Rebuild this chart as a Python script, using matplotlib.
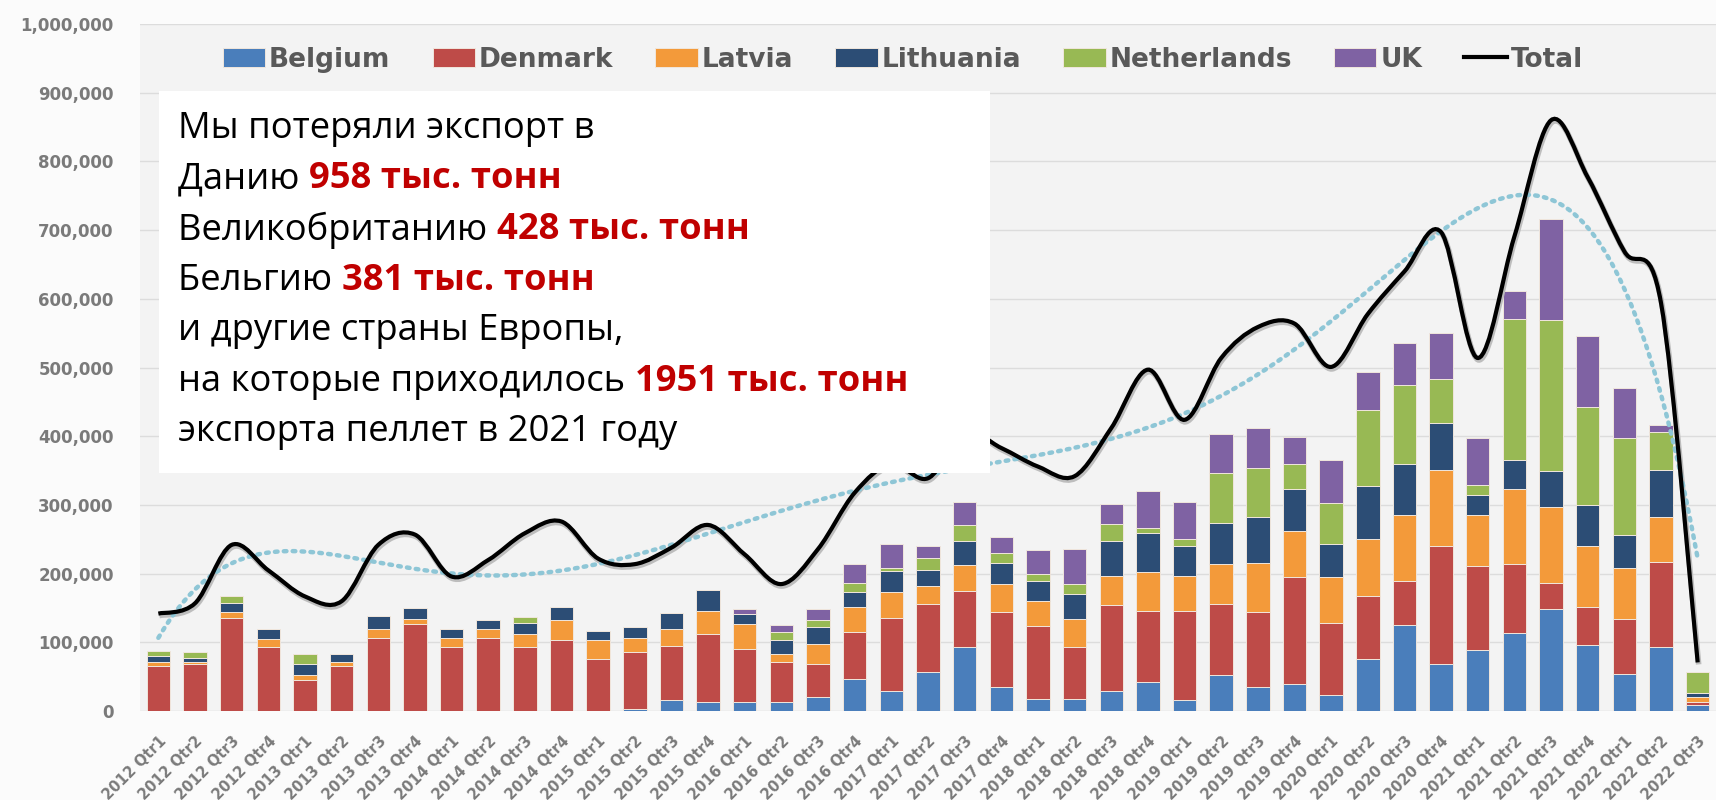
import numpy as np
import matplotlib.pyplot as plt
from matplotlib.path import Path
from matplotlib.patches import PathPatch, Rectangle
from matplotlib.lines import Line2D
from matplotlib.transforms import ScaledTranslation

# Кварталы 2012 Qtr1 .. 2022 Qtr3
quarters = [f"{y} Qtr{q}" for y in range(2012, 2023) for q in range(1, 5)][:43]

# Экспорт пеллет по странам, тыс. тонн (оценка по графику)
belgium = [0, 0, 0, 0, 0, 0, 0, 0, 0, 0, 0, 0, 0, 3, 16, 13, 13,
           13, 21, 47, 30, 57, 93, 35, 18, 18, 30, 42, 16, 52, 35, 40,
           23, 76, 126, 69, 89, 114, 149, 97, 54, 94, 9]
denmark = [66, 69, 136, 93, 45, 66, 107, 127, 93, 107, 93, 103, 76, 83, 79, 99, 78,
           58, 48, 68, 106, 99, 82, 109, 106, 75, 124, 104, 130, 104, 109, 155,
           106, 92, 63, 171, 122, 100, 37, 54, 80, 123, 4]
latvia = [5, 2, 8, 12, 7, 5, 13, 7, 14, 13, 19, 29, 28, 21, 25, 34, 36,
          12, 29, 36, 37, 26, 38, 41, 36, 41, 43, 56, 51, 58, 72, 67,
          66, 82, 97, 111, 75, 109, 111, 89, 75, 66, 7]
lithuania = [10, 6, 14, 15, 17, 12, 18, 16, 13, 13, 17, 20, 12, 16, 23, 30, 14,
             20, 24, 22, 31, 24, 34, 31, 29, 36, 51, 58, 43, 60, 66, 61,
             48, 78, 74, 69, 28, 43, 52, 60, 48, 68, 6]
netherlands = [7, 9, 10, 0, 14, 0, 0, 0, 0, 0, 8, 0, 0, 0, 0, 0, 0,
               12, 10, 14, 5, 17, 24, 14, 10, 15, 24, 7, 10, 73, 72, 36,
               60, 111, 114, 63, 15, 205, 220, 143, 140, 55, 31]
uk = [0, 0, 0, 0, 0, 0, 0, 0, 0, 0, 0, 0, 0, 0, 0, 0, 7,
      11, 16, 27, 34, 18, 33, 23, 36, 51, 30, 53, 54, 56, 58, 40,
      63, 54, 62, 68, 68, 40, 147, 103, 74, 10, 0]
total = [142, 157, 242, 205, 167, 160, 242, 257, 196, 220, 259, 276, 222, 214, 238, 271, 228,
         185, 236, 318, 360, 339, 405, 383, 356, 342, 412, 497, 424, 514, 559, 564,
         501, 578, 640, 697, 514, 691, 860, 777, 669, 594, 71]

countries = ["Belgium", "Denmark", "Latvia", "Lithuania", "Netherlands", "UK"]
series = [belgium, denmark, latvia, lithuania, netherlands, uk]
colors = ["#4a7ebb", "#be4b48", "#f39a3a", "#2c4d75", "#98b954", "#7f62a3"]

x = np.arange(len(quarters))
total_t = np.array(total) * 1000.0

fig = plt.figure(figsize=(17.16, 8), dpi=100, facecolor="#fbfbfb")
ax = fig.add_axes([0.0816, 0.111, 0.9184, 0.859])
ax.set_facecolor("#f3f3f3")

# Столбцы
bottom = np.zeros(len(x))
for name, vals, c in zip(countries, series, colors):
    v = np.array(vals) * 1000.0
    ax.bar(x, v, 0.64, bottom=bottom, color=c, edgecolor="#f0e6dc",
           linewidth=0.7, label=name, zorder=3)
    bottom += v

# Сглаженная линия Total (кривые Безье по точкам, как в Excel)
pts = np.column_stack([x, total_t])
verts = [pts[0]]
codes = [Path.MOVETO]
for i in range(len(pts) - 1):
    p0 = pts[max(i - 1, 0)]
    p1 = pts[i]
    p2 = pts[i + 1]
    p3 = pts[min(i + 2, len(pts) - 1)]
    verts += [p1 + (p2 - p0) / 6, p2 - (p3 - p1) / 6, p2]
    codes += [Path.CURVE4] * 3
smooth = Path(verts, codes)
shadow = ax.transData + ScaledTranslation(1 / 100, -2 / 100, fig.dpi_scale_trans)
ax.add_patch(PathPatch(smooth, fill=False, edgecolor="#bdbdbd", lw=4,
                       zorder=4, transform=shadow))
ax.add_patch(PathPatch(smooth, fill=False, edgecolor="black", lw=3, zorder=5))

# Полиномиальный тренд (6 степень)
coef = np.polyfit(x, total_t, 6)
xt = np.linspace(0, len(x) - 1, 300)
ax.plot(xt, np.polyval(coef, xt), linestyle=(0, (0.6, 1.4)), color="#8ec6d6",
        lw=3.2, dash_capstyle="round", zorder=4)

ax.set_xlim(-0.5, len(x) - 0.5)
ax.set_ylim(0, 1000000)
ax.set_yticks(np.arange(0, 1000001, 100000))
ax.set_yticklabels([f"{v:,}" for v in range(0, 1000001, 100000)],
                   fontsize=12, fontweight="bold", color="#7a7a7a")
ax.set_xticks(x)
ax.set_xticklabels(quarters, rotation=45, ha="right", rotation_mode="anchor",
                   fontsize=10.5, fontweight="bold", color="#7a7a7a")
ax.tick_params(axis="y", length=0, pad=19)
ax.tick_params(axis="x", length=0, pad=16)
ax.grid(axis="y", color="#dcdcdc", lw=1, zorder=0)
for s in ax.spines.values():
    s.set_visible(False)

handles, labels = ax.get_legend_handles_labels()
handles.append(Line2D([0], [0], color="black", lw=3))
labels.append("Total")
leg = ax.legend(handles, labels, ncol=7, loc="center", bbox_to_anchor=(0.484, 0.948),
                frameon=False, handlelength=1.6, handleheight=0.7, handletextpad=0.15,
                columnspacing=1.6, prop={"size": 19, "weight": "bold"})
for t in leg.get_texts():
    t.set_color("#595959")

# Белая плашка с текстом
fig.patches.append(Rectangle((159 / 1716, 1 - 473 / 800), (990 - 159) / 1716, (473 - 91) / 800,
                             transform=fig.transFigure, facecolor="white", edgecolor="none",
                             zorder=10))

lines = [
    [("Мы потеряли экспорт в", "black")],
    [("Данию ", "black"), ("958 тыс. тонн", "#c00000")],
    [("Великобританию ", "black"), ("428 тыс. тонн", "#c00000")],
    [("Бельгию ", "black"), ("381 тыс. тонн", "#c00000")],
    [("и другие страны Европы,", "black")],
    [("на которые приходилось ", "black"), ("1951 тыс. тонн", "#c00000")],
    [("экспорта пеллет в 2021 году", "black")],
]
renderer = fig.canvas.get_renderer()
for i, parts in enumerate(lines):
    xpos = 178
    ypos = 800 - (129 + 50.5 * i)
    for txt, c in parts:
        bold = c != "black"
        t = fig.text(xpos / 1716, ypos / 800, txt, fontsize=26.2, color=c,
                     fontweight="bold" if bold else "normal", family="Open Sans",
                     va="center", ha="left", zorder=11)
        xpos = t.get_window_extent(renderer).x1

fig.savefig("out.png", dpi=100, facecolor=fig.get_facecolor())
